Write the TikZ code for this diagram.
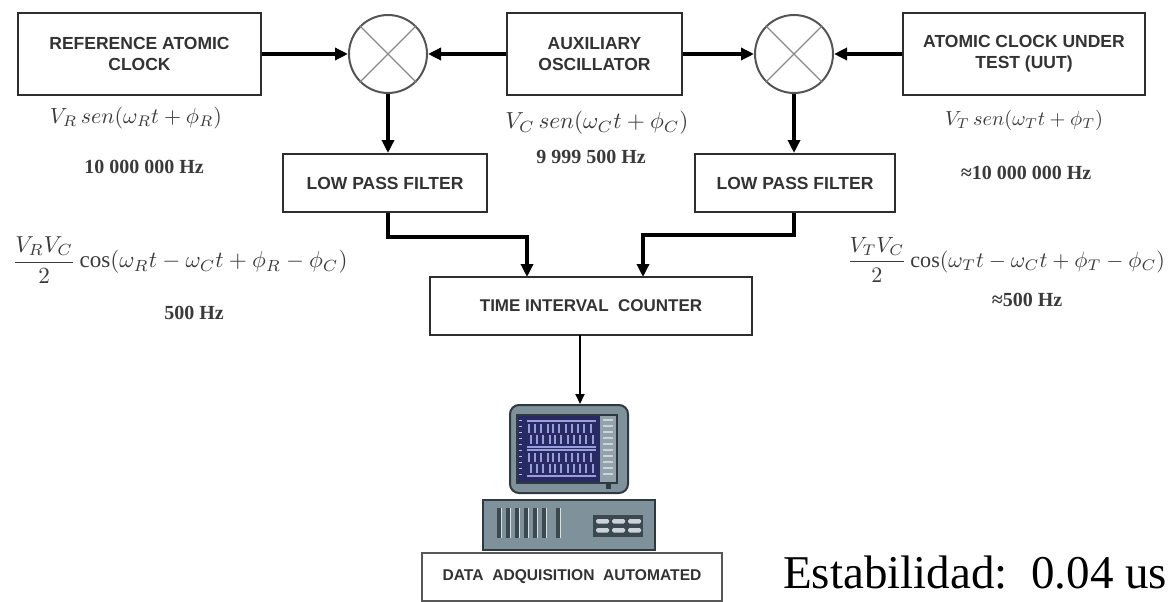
\documentclass[tikz,border=0pt]{standalone}
\usepackage{amsmath}
\usepackage{fontspec}
\usetikzlibrary{arrows.meta,calc}
\setmainfont{Liberation Serif}
\newfontfamily\boxfont{Liberation Sans}
\definecolor{boxline}{HTML}{2E2E2E}
\definecolor{boxtext}{HTML}{333333}
\definecolor{mixline}{HTML}{555555}
\definecolor{mixx}{HTML}{8A8A8A}
\definecolor{labeltext}{HTML}{3A3A3A}
\definecolor{pcbody}{HTML}{7F919B}
\definecolor{pcedge}{HTML}{2F3A40}
\definecolor{pcdark}{HTML}{3C4850}
\definecolor{pclight}{HTML}{C9D3D9}
\definecolor{scrnavy}{HTML}{272B62}
\definecolor{scrglyph}{HTML}{9A9CE0}
\begin{document}
\begin{tikzpicture}[x=1pt,y=-1pt,
  blk/.style={draw=boxline,line width=2pt,fill=white,inner sep=0pt,align=center,
    text=boxtext,font=\boxfont\bfseries\fontsize{17.5}{21}\selectfont},
  mixer/.style={circle,draw=mixline,line width=2pt,minimum size=78pt,inner sep=0pt},
  mixcross/.style={draw=mixx,line width=1.4pt},
  sig/.style={line width=3.5pt,draw=black,-{Triangle[length=13pt,width=12pt]}},
  thinsig/.style={line width=2pt,draw=black,-{Triangle[length=10pt,width=9pt]}},
  lbl/.style={inner sep=0pt,text=labeltext},
  freq/.style={inner sep=0pt,text=labeltext,font=\bfseries\fontsize{20}{24}\selectfont},
]
\useasboundingbox (0,0) rectangle (1170,602);

% ---- top row: sources and mixers
\node[blk,minimum width=243pt,minimum height=82pt] (ref) at (139.5,54) {REFERENCE ATOMIC\\CLOCK};
\node[blk,minimum width=175pt,minimum height=82pt] (aux) at (594.5,54) {AUXILIARY\\OSCILLATOR};
\node[blk,minimum width=242pt,minimum height=82pt] (uut) at (1024,54) {ATOMIC CLOCK UNDER\\TEST (UUT)};
\node[mixer] (m1) at (388,54) {};
\node[mixer] (m2) at (794,54) {};
\foreach \m in {m1,m2}{
  \draw[mixcross] (\m.north east) -- (\m.south west);
  \draw[mixcross] (\m.north west) -- (\m.south east);
}

% ---- filters and counter
\node[blk,minimum width=204pt,minimum height=58pt] (lpf1) at (385,183) {LOW PASS FILTER};
\node[blk,minimum width=200pt,minimum height=58pt] (lpf2) at (795,183) {LOW PASS FILTER};
\node[blk,minimum width=322pt,minimum height=58pt,
  font=\boxfont\bfseries\fontsize{17}{21}\selectfont] (tic) at (591,306) {TIME INTERVAL\ \ COUNTER};
\node[blk,draw=boxline!80,line width=1.6pt,minimum width=300pt,minimum height=48pt,
  font=\boxfont\bfseries\fontsize{15.6}{18}\selectfont] (daa) at (572,577)
  {DATA\ \ ADQUISITION\ \ AUTOMATED};

% ---- signal labels
\node[lbl] (lr) at (136,118) {\resizebox{172pt}{!}{$V_R\,sen(\omega_R t+\phi_R)$}};
\node[freq] (fr) at (144,167) {10 000 000 Hz};
\node[lbl] (lc) at (597,123) {\resizebox{183pt}{!}{$V_C\,sen(\omega_C t+\phi_C)$}};
\node[freq] (fc) at (591,157) {9 999 500 Hz};
\node[lbl] (lt) at (1024,120) {\resizebox{158pt}{!}{$V_T\,sen(\omega_T t+\phi_T)$}};
\node[freq] (ft) at (1026,173) {≈10 000 000 Hz};
\node[lbl] (bl) at (180,260) {\resizebox{335pt}{!}{$\dfrac{V_RV_C}{2}\cos(\omega_R t-\omega_C t+\phi_R-\phi_C)$}};
\node[freq] (bfl) at (194,313) {500 Hz};
\node[lbl] (br) at (1006,260) {\resizebox{318pt}{!}{$\dfrac{V_TV_C}{2}\cos(\omega_T t-\omega_C t+\phi_T-\phi_C)$}};
\node[freq] (bfr) at (1027,300) {≈500 Hz};

% ---- connectors
\coordinate (bendL) at (388,237);
\coordinate (tinL) at (527,277);
\coordinate (bendR) at (794,235);
\coordinate (tinR) at (643,277);
\coordinate (tout) at (580,335);
\draw[sig] (ref.east) -- (m1.west);
\draw[sig] (aux.west) -- (m1.east);
\draw[sig] (aux.east) -- (m2.west);
\draw[sig] (uut.west) -- (m2.east);
\draw[sig] (m1.south) -- (m1.south |- lpf1.north);
\draw[sig] (m2.south) -- (m2.south |- lpf2.north);
\draw[sig] (lpf1.south -| bendL) -- (bendL) -| (tinL);
\draw[sig] (lpf2.south -| bendR) -- (bendR) -| (tinR);

% ---- computer: monitor
\node[draw=pcedge,line width=2pt,fill=pcbody,rounded corners=9pt,
  minimum width=118pt,minimum height=88pt,inner sep=0pt] (mon) at (569,449) {};
\draw[thinsig] (tout) -- (tout |- mon.north);
\node[draw=pcedge,line width=1.2pt,fill=scrnavy,minimum width=100pt,minimum height=68pt,
  inner sep=0pt] (scr) at (567,449) {};
\fill[pcbody!85!white] (600,416) rectangle (616.4,482);
\foreach \yy in {420,426,...,478}{
  \draw[pclight,line width=1.3pt] (603,\yy) -- (613,\yy);
  \draw[scrglyph!70,line width=1pt] (519,\yy) -- (522,\yy);
}
\foreach \bx/\by in {0/421,0/450}{
  \draw[scrglyph,line width=1.2pt] (527,\by) -- (596,\by);
  \draw[scrglyph,line width=1.2pt] (527,\by+26) -- (596,\by+26);
  \foreach \gx in {529,535,541,548,553,559,566,572,578,584,591}{
    \draw[scrglyph,line width=1.4pt] (\gx,\by+3) -- (\gx,\by+12);
    \draw[scrglyph,line width=1.4pt] (\gx+2,\by+14) -- (\gx+2,\by+23);
  }
}
\fill[pcedge] (606,484) rectangle (611,489);

% ---- computer: base unit
\node[draw=pcedge,line width=2.5pt,fill=pcbody,minimum width=172pt,minimum height=50pt,
  inner sep=0pt] (cpu) at (569,525) {};
\foreach \sx in {497,506,515,524,533,542,556}{
  \fill[pcdark] (\sx,508) rectangle (\sx+3.5,538);
  \fill[pclight!70] (\sx+3.5,508) rectangle (\sx+5,538);
}
\node[fill=pcdark,minimum width=50pt,minimum height=22pt,inner sep=0pt] (bay) at (618,526) {};
\foreach \rx in {596,612,628}{
  \fill[pclight,rounded corners=1.5pt] (\rx,519) rectangle (\rx+13,523.5);
  \fill[pclight,rounded corners=1.5pt] (\rx,528) rectangle (\rx+13,532.5);
}

% ---- note
\node[anchor=base west,inner sep=0pt,font=\fontsize{47}{56}\selectfont] (est) at (783,588)
  {Estabilidad:\ \ 0.04 us};
\end{tikzpicture}
\end{document}
